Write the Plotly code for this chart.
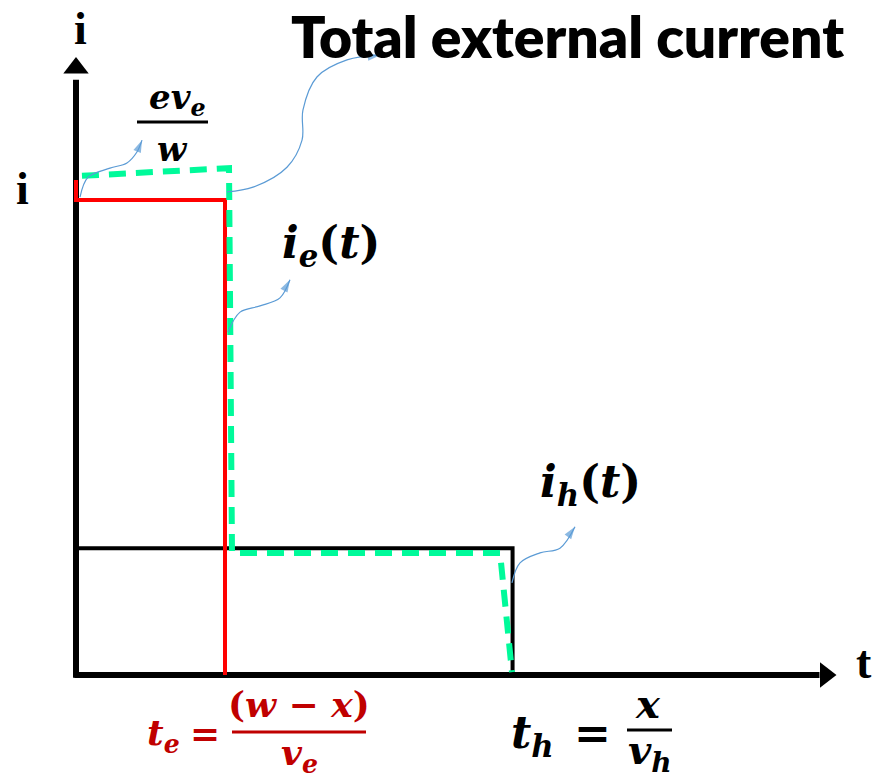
import plotly.graph_objects as go

W, H = 878, 782

# physical-ish units: t_e = 1, electron current i_e = 1
t_e = 1.0
t_h = 2.93
i_e = 1.0
i_h = 0.267

# electron current (red)
red_t = [0, 0, t_e, t_e]
red_i = [1.042, i_e, i_e, 0]

# hole current (black)
blk_t = [0, t_h, t_h]
blk_i = [i_h, i_h, 0]

# total external current (green dashed)
tot_t = [0.04, 1.027, 1.047, 2.846, 2.926]
tot_i = [1.051, 1.067, 0.257, 0.257, 0.006]

# axes extents
t_axis_end = 4.99
i_axis_end = 1.253

# blue pointer curves
c1_t = [0.027, 0.081, 0.228, 0.342, 0.409, 0.443]
c1_i = [1.006, 1.048, 1.067, 1.078, 1.101, 1.126]
c2_t = [1.013, 1.188, 1.416, 1.517, 1.523, 1.617, 1.819, 2.040]
c2_i = [1.017, 1.027, 1.069, 1.126, 1.189, 1.259, 1.295, 1.305]
c3_t = [1.020, 1.101, 1.235, 1.369, 1.436]
c3_i = [0.722, 0.764, 0.777, 0.794, 0.832]
c4_t = [2.926, 2.980, 3.114, 3.248, 3.349]
c4_i = [0.194, 0.236, 0.257, 0.267, 0.312]

# pixel <-> data mapping of the drawing area (origin at px 76,675)
X0, PX_T = 76, 149
Y0, PX_I = 675, 475
x_range = [-X0 / PX_T, (W - X0) / PX_T]
y_range = [-(H - Y0) / PX_I, Y0 / PX_I]

fig = go.Figure()

# axes with arrowheads
fig.add_trace(go.Scatter(x=[-0.01, t_axis_end], y=[0, 0], mode="lines",
                         line=dict(color="black", width=6), hoverinfo="skip"))
fig.add_trace(go.Scatter(x=[0, 0], y=[-0.006, i_axis_end], mode="lines",
                         line=dict(color="black", width=6), hoverinfo="skip"))
fig.add_trace(go.Scatter(x=[t_axis_end + 0.04], y=[0], mode="markers",
                         marker=dict(symbol="triangle-right", size=22, color="black"),
                         hoverinfo="skip"))
fig.add_trace(go.Scatter(x=[0], y=[i_axis_end + 0.025], mode="markers",
                         marker=dict(symbol="triangle-up", size=22, color="black"),
                         hoverinfo="skip"))

fig.add_trace(go.Scatter(x=blk_t, y=blk_i, mode="lines",
                         line=dict(color="black", width=4), hoverinfo="skip"))
fig.add_trace(go.Scatter(x=red_t, y=red_i, mode="lines",
                         line=dict(color="#FF0000", width=4), hoverinfo="skip"))
fig.add_trace(go.Scatter(x=tot_t, y=tot_i, mode="lines",
                         line=dict(color="#00FA9A", width=6, dash="17px,10px"),
                         hoverinfo="skip"))

for ct, ci in [(c1_t, c1_i), (c2_t, c2_i), (c3_t, c3_i), (c4_t, c4_i)]:
    fig.add_trace(go.Scatter(x=ct, y=ci, mode="lines",
                             line=dict(color="#5B9BD5", width=1.2, shape="spline"),
                             hoverinfo="skip"))
    sizes = [0] * (len(ct) - 1) + [13]
    fig.add_trace(go.Scatter(x=ct, y=ci, mode="markers",
                             marker=dict(symbol="arrow", angleref="previous",
                                         size=sizes, color="#5B9BD5", line=dict(width=0)),
                             hoverinfo="skip"))


def at(x, y):
    # pixel -> paper fraction
    return x / W, 1 - y / H


def label(text, x, y, size, color="black", family="DejaVu Serif", xanchor="center",
          yanchor="middle", weight=None):
    px, py = at(x, y)
    font = dict(size=size, color=color, family=family)
    if weight:
        font["weight"] = weight
    fig.add_annotation(x=px, y=py, xref="paper", yref="paper", text=text,
                       showarrow=False, xanchor=xanchor, yanchor=yanchor, font=font)


def bar(x1, x2, y, color="black"):
    a, b = at(x1, y)
    c, _ = at(x2, y)
    fig.add_shape(type="line", xref="paper", yref="paper", x0=a, x1=c, y0=b, y1=b,
                  line=dict(color=color, width=3))


def bi(s):
    return "<b><i>" + s + "</i></b>"


# title
label("Total external current", 846, 0, 57, family="Lato", xanchor="right",
      yanchor="top", weight=800)

# axis letters
label("<b>i</b>", 80, 1, 46, family="Liberation Serif", yanchor="top")
label("<b>i</b>", 22, 188, 46, family="Liberation Serif")
label("<b>t</b>", 864, 662, 46, family="Liberation Serif")

# e v_e / w
label(bi("ev") + "<sub>" + bi("e") + "</sub>", 177, 100, 34)
bar(137, 208, 122)
label(bi("w"), 172, 149, 34)

# i_e(t), i_h(t)
label(bi("i") + "<sub>" + bi("e") + "</sub><b>(</b>" + bi("t") + "<b>)</b>", 331, 246, 44)
label(bi("i") + "<sub>" + bi("h") + "</sub><b>(</b>" + bi("t") + "<b>)</b>", 590, 484, 44)

# t_e = (w - x) / v_e
red = "#C00000"
label(bi("t") + "<sub>" + bi("e") + "</sub>", 163, 735, 36, color=red)
label("<b>=</b>", 205, 733, 36, color=red)
label("<b>(</b>" + bi("w") + "<b> − </b>" + bi("x") + "<b>)</b>", 299, 704, 36, color=red)
bar(232, 366, 732, color=red)
label(bi("v") + "<sub>" + bi("e") + "</sub>", 299, 781, 36, color=red, yanchor="bottom")

# t_h = x / v_h
label(bi("t") + "<sub>" + bi("h") + "</sub>", 532, 735, 44)
label("<b>=</b>", 592, 733, 44)
label(bi("x"), 648, 703, 40)
bar(627, 672, 730)
label(bi("v") + "<sub>" + bi("h") + "</sub>", 650, 781, 40, yanchor="bottom")

fig.update_layout(
    width=W, height=H,
    margin=dict(l=0, r=0, t=0, b=0),
    paper_bgcolor="white", plot_bgcolor="white",
    showlegend=False,
    xaxis=dict(range=x_range, visible=False, fixedrange=True),
    yaxis=dict(range=y_range, visible=False, fixedrange=True),
)

fig.write_html("out.html", config={"displayModeBar": False},
               post_script="document.body.style.margin='0';"
                           "document.body.style.overflow='hidden';")
